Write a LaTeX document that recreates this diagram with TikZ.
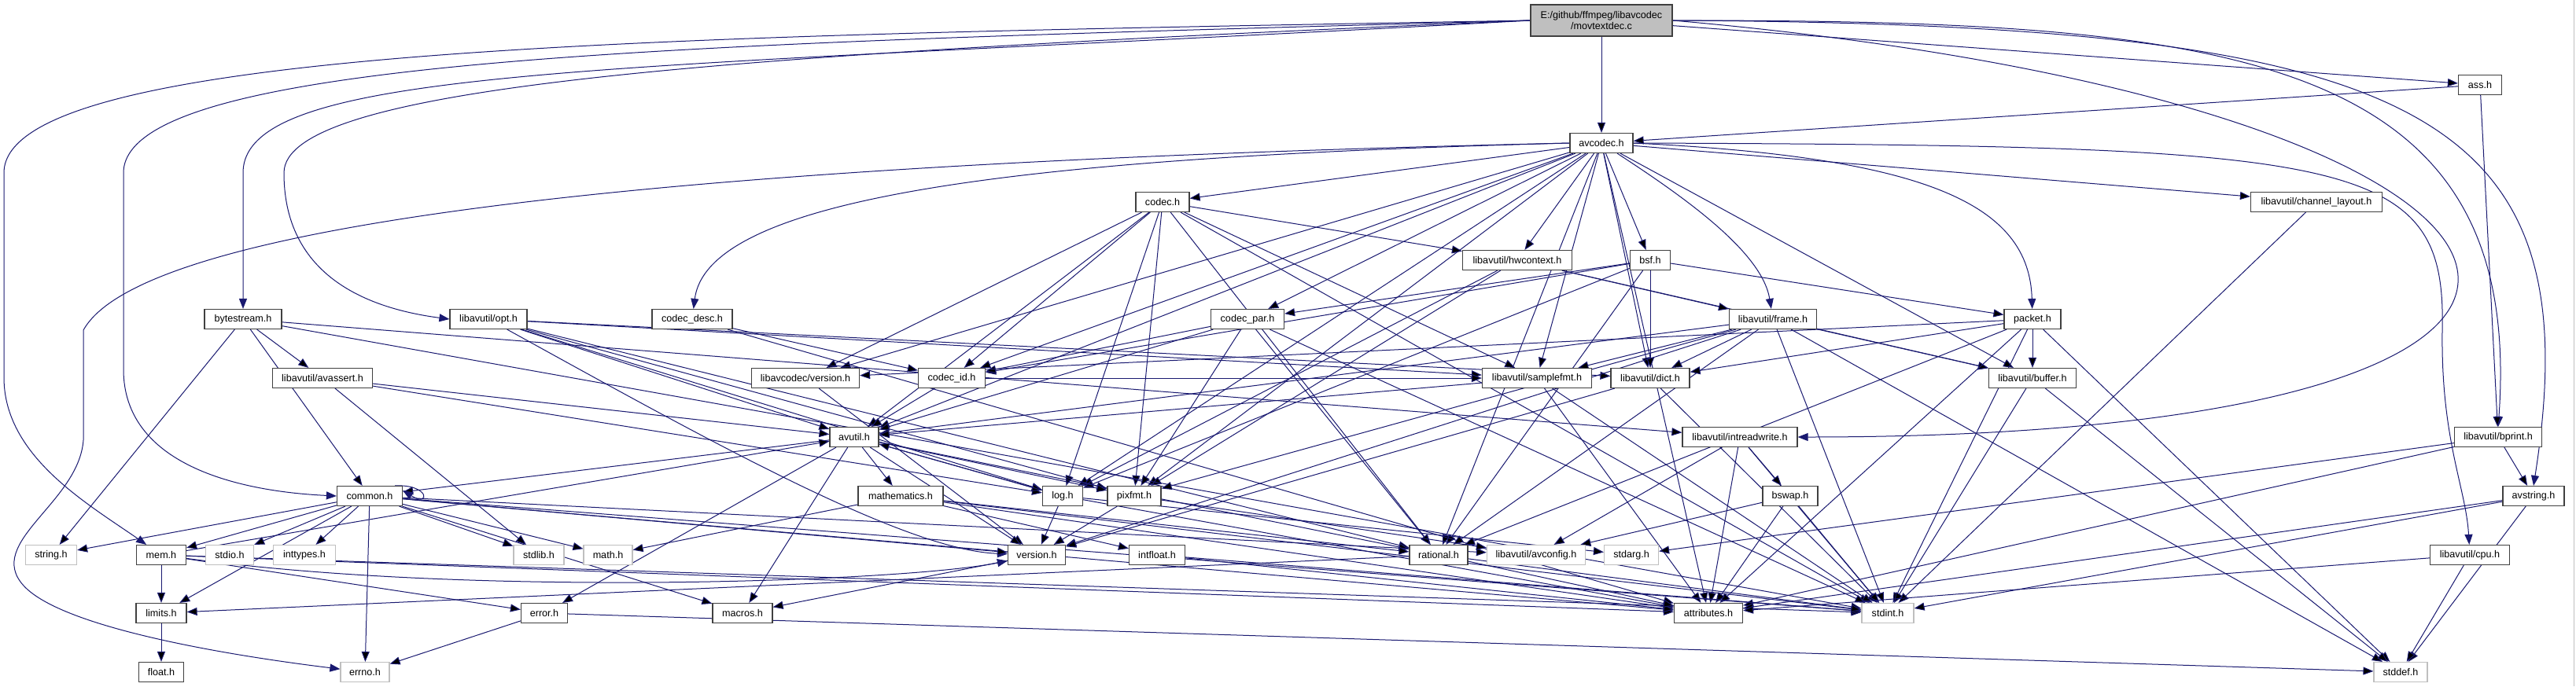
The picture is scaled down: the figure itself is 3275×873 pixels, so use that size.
\documentclass[tikz,border=0pt]{standalone}
\usepackage{fontspec}
\setmainfont{Liberation Sans}
\usepackage{xcolor}
\usepackage{tikz}
\usetikzlibrary{arrows.meta,backgrounds}
\definecolor{depblue}{HTML}{191970}
\definecolor{hline}{HTML}{404040}
\definecolor{sysline}{HTML}{BFBFBF}
\definecolor{srcgray}{HTML}{BFBFBF}
\newcommand{\hfont}{\fontsize{12.6}{14.5}\selectfont}
\tikzset{
  hbox/.style={draw=hline,line width=1.2pt,fill=white,minimum height=25pt,
    inner xsep=2pt,inner ysep=0pt,font=\hfont},
  hsys/.style={hbox,draw=sysline},
  hsrc/.style={hbox,fill=srcgray,align=center,minimum height=40pt},
  hdep/.style={-{Triangle[length=13pt,width=10pt]},draw=depblue,line width=1pt},
}

\begin{document}
\begin{tikzpicture}[x=1pt,y=1pt]
\useasboundingbox (0,0) rectangle (3275,-873);
\draw[sysline,line width=1pt] (3272,0) -- (3272,-873);
% the source file at the top
\node[hsrc,minimum width=180] (src) at (2036,-26) {E:/github/ffmpeg/libavcodec\\/movtextdec.c};
% first levels of libavcodec headers
\node[hbox,minimum width=80] (avc) at (2036,-182) {avcodec.h};
\node[hbox,minimum width=55] (ass) at (3153,-108) {ass.h};
\node[hbox,minimum width=68] (cdc) at (1478,-257) {codec.h};
\node[hbox,minimum width=167] (chl) at (2945,-257) {libavutil/channel\_layout.h};
\node[hbox,minimum width=139] (hwc) at (1929,-331) {libavutil/hwcontext.h};
\node[hbox,minimum width=51] (bsf) at (2098,-331) {bsf.h};
\node[hbox,minimum width=98] (bst) at (309,-406) {bytestream.h};
\node[hbox,minimum width=98] (opt) at (621,-406) {libavutil/opt.h};
\node[hbox,minimum width=102] (cdd) at (880,-406) {codec\_desc.h};
\node[hbox,minimum width=93] (cpr) at (1586,-406) {codec\_par.h};
\node[hbox,minimum width=111] (frm) at (2254,-406) {libavutil/frame.h};
\node[hbox,minimum width=72] (pkt) at (2584,-406) {packet.h};
\node[hbox,minimum width=127] (ast) at (410,-481) {libavutil/avassert.h};
\node[hbox,minimum width=137] (lcv) at (1024,-481) {libavcodec/version.h};
\node[hbox,minimum width=85] (cid) at (1210,-481) {codec\_id.h};
\node[hbox,minimum width=139] (smp) at (1954,-481) {libavutil/samplefmt.h};
\node[hbox,minimum width=100] (dct) at (2098,-481) {libavutil/dict.h};
\node[hbox,minimum width=111] (buf) at (2584,-481) {libavutil/buffer.h};
% libavutil headers
\node[hbox,minimum width=62] (avu) at (1086,-556) {avutil.h};
\node[hbox,minimum width=146] (irw) at (2212,-556) {libavutil/intreadwrite.h};
\node[hbox,minimum width=111] (bpr) at (3176,-556) {libavutil/bprint.h};
\node[hbox,minimum width=83] (cmn) at (470,-631) {common.h};
\node[hbox,minimum width=108] (mth) at (1145,-631) {mathematics.h};
\node[hbox,minimum width=51] (log) at (1351,-631) {log.h};
\node[hbox,minimum width=68] (pxf) at (1442,-631) {pixfmt.h};
\node[hbox,minimum width=70] (bsw) at (2276,-631) {bswap.h};
\node[hbox,minimum width=78] (avs) at (3221,-631) {avstring.h};
\node[hsys,minimum width=65] (str) at (65,-706) {string.h};
\node[hbox,minimum width=63] (mem) at (205,-706) {mem.h};
\node[hsys,minimum width=61] (sio) at (292,-706) {stdio.h};
\node[hsys,minimum width=79] (ity) at (387,-706) {inttypes.h};
\node[hsys,minimum width=64] (slb) at (685,-706) {stdlib.h};
\node[hsys,minimum width=62] (mat) at (773,-706) {math.h};
\node[hbox,minimum width=73] (ver) at (1318,-706) {version.h};
\node[hbox,minimum width=71] (ifl) at (1471,-706) {intfloat.h};
\node[hbox,minimum width=74] (rat) at (1829,-706) {rational.h};
\node[hsys,minimum width=125] (acf) at (1953,-706) {libavutil/avconfig.h};
\node[hsys,minimum width=69] (sag) at (2074,-706) {stdarg.h};
\node[hbox,minimum width=101] (cpu) at (3140,-706) {libavutil/cpu.h};
\node[hbox,minimum width=64] (lim) at (205,-780) {limits.h};
\node[hbox,minimum width=59] (err) at (692,-780) {error.h};
\node[hbox,minimum width=76] (mac) at (944,-780) {macros.h};
\node[hbox,minimum width=87] (att) at (2172,-780) {attributes.h};
\node[hsys,minimum width=66] (sin) at (2400,-780) {stdint.h};
\node[hbox,minimum width=57] (flt) at (205,-855) {float.h};
\node[hsys,minimum width=62] (eno) at (464,-855) {errno.h};
\node[hsys,minimum width=68] (sdf) at (3052,-855) {stddef.h};
\begin{scope}[on background layer]
% includes of the source file
\draw[hdep] (src) edge (avc) edge (ass);
\draw[hdep] (src.east) .. controls +(700,0) and +(35,480) .. (bpr.north);
\draw[hdep] (src.east) .. controls +(950,-5) and +(75,480) .. (avs.north);
\draw[hdep] (src.east) .. controls +(1215,-106) and +(1220,0) .. (irw.east);
\draw[hdep] (src.west) .. controls (900,-45) and (5,-55) .. (5,-220) -- (5,-480)
  .. controls (5,-580) and (110,-640) .. (mem);
\draw[hdep] (src.west) .. controls (900,-55) and (157,-70) .. (157,-220) -- (157,-470)
  .. controls (157,-590) and (300,-625) .. (cmn.west);
\draw[hdep] (src.west) .. controls (800,-90) and (309,-80) .. (309,-220) -- (bst);
\draw[hdep] (src.west) .. controls (900,-70) and (361,-110) .. (361,-220)
  .. controls (361,-340) and (450,-390) .. (opt.west);
% avcodec.h
\draw[hdep] (avc.west) .. controls (1200,-200) and (200,-250) .. (106,-420) -- (106,-560)
  .. controls (100,-640) and (-20,-690) .. (30,-745)
  .. controls (80,-800) and (300,-835) .. (eno);
\draw[hdep] (avc.east) .. controls (3000,-185) and (3110,-200) .. (3105,-420)
  .. controls (3103,-560) and (3135,-620) .. (cpu);
\draw[hdep] (avc) .. controls (2140,-250) and (2240,-320) .. (frm);
\draw[hdep] (avc.west) .. controls (1300,-200) and (900,-250) .. (cdd);
\draw[hdep] (avc.east) .. controls (2450,-200) and (2580,-260) .. (pkt);
\draw[hdep] (avc) edge (smp) edge (att) edge (avu) edge (buf) edge (chl)
  edge (dct) edge (hwc) edge (log) edge (pxf) edge (rat) edge (bsf)
  edge (cdc) edge (cpr) edge (cid) edge (lcv);
% other libavcodec headers
\draw[hdep] (ass) edge (avc) edge (bpr);
\draw[hdep] (chl) edge (sin);
\draw[hdep] (cdc) edge (sin) edge (avu) edge (hwc) edge (log) edge (pxf)
  edge (rat) edge (smp) edge (cid) edge (lcv);
\draw[hdep] (hwc) edge (buf) edge (frm) edge (log) edge (pxf);
\draw[hdep] (bsf) edge (dct) edge (log) edge (rat) edge (cid) edge (cpr) edge (pkt);
\draw[hdep] (bst) edge (sin) edge (str) edge (ast) edge (cmn) edge (irw);
\draw[hdep] (opt) edge (rat) edge (avu) edge (dct) edge (log) edge (pxf) edge (smp);
\draw[hdep] (opt) .. controls (900,-560) and (1150,-700) .. (ver);
\draw[hdep] (cdd) edge (att) edge (cid);
\draw[hdep] (cpr) edge (sin) edge (avu) edge (rat) edge (pxf) edge (cid);
\draw[hdep] (frm) edge (sdf) edge (sin) edge (avu) edge (buf) edge (dct)
  edge (rat) edge (smp) edge (pxf) edge (ver);
\draw[hdep] (pkt) edge (sdf) edge (sin) edge (att) edge (buf) edge (dct)
  edge (rat) edge (lcv);
\draw[hdep] (lcv) edge (ver);
\draw[hdep] (cid) edge (avu) edge (smp);
% libavutil headers
\draw[hdep] (ast) edge (slb) edge (avu) edge (log);
\draw[hdep] (smp) edge (sin) edge (avu) edge (att);
\draw[hdep] (dct) edge (sin) edge (ver);
\draw[hdep] (buf) edge (sdf) edge (sin);
\draw[hdep] (avu) edge (cmn) edge (err) edge (rat) edge (ver) edge (mac)
  edge (mth) edge (log) edge (pxf);
\draw[hdep] (irw) edge (sin) edge (acf) edge (att) edge (bsw);
\draw[hdep] (bpr) edge (sag) edge (att) edge (avs);
\draw[hdep] (cmn) edge (eno) edge (ity) edge (lim) edge (mat) edge (sin)
  edge (sio) edge (slb) edge (str) edge (att) edge (mac) edge (ver)
  edge (acf) edge (mem);
\draw[hdep] ([xshift=-10pt]cmn.north east) .. controls +(45,2) and +(35,-22)
  .. ([yshift=-6pt]cmn.north east);
\draw[hdep] (mth) edge (sin) edge (mat) edge (att) edge (rat) edge (ifl);
\draw[hdep] (log) edge (sag) edge (avu) edge (att) edge (ver);
\draw[hdep] (pxf) edge (acf) edge (ver);
\draw[hdep] (bsw) edge (sin) edge (acf) edge (att);
\draw[hdep] (avs) edge (sdf) edge (sin) edge (att);
\draw[hdep] (mem) edge (lim) edge (sin) edge (att) edge (err) edge (avu);
\draw[hdep] (mem) .. controls (600,-760) and (1150,-740) .. (ver);
\draw[hdep] (ver) edge (mac);
\draw[hdep] (ifl) edge (sin) edge (att);
\draw[hdep] (rat) edge (sin) edge (lim) edge (att);
\draw[hdep] (cpu) edge (sdf) edge (att);
\draw[hdep] (lim) edge (flt);
\draw[hdep] (err) edge (eno) edge (sdf);
\end{scope}
\end{tikzpicture}
\end{document}
